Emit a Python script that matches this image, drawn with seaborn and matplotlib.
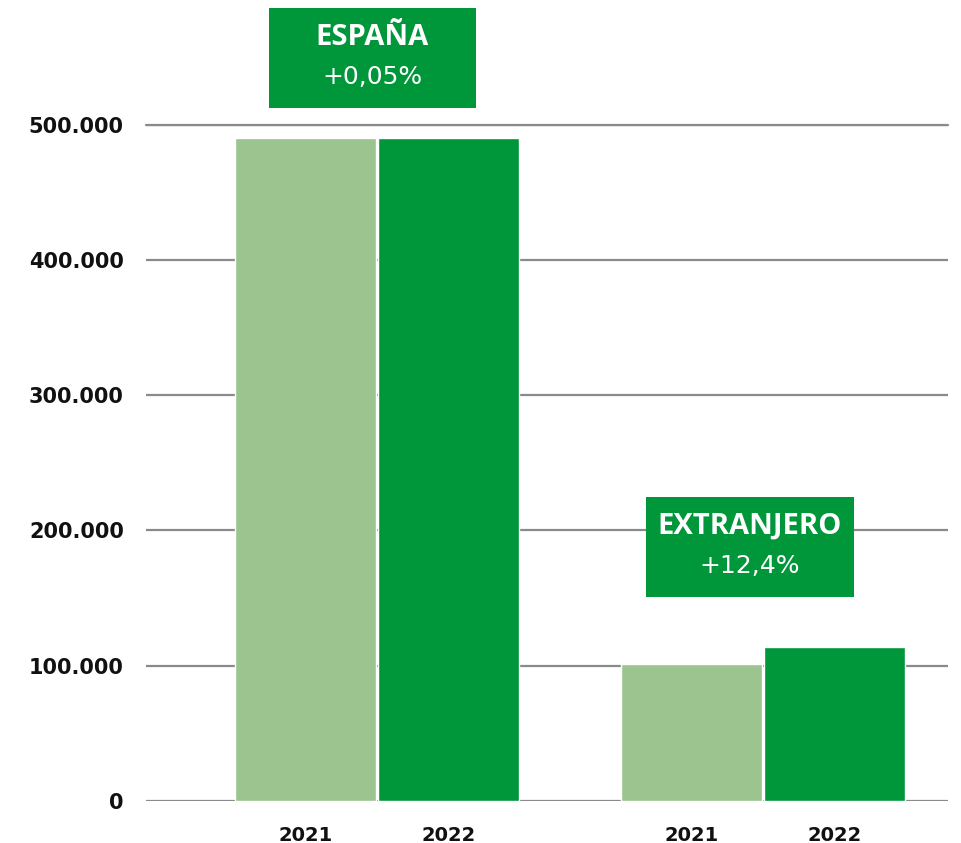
import matplotlib
matplotlib.use("Agg")
import matplotlib.pyplot as plt
import seaborn as sns
import pandas as pd
from matplotlib.patches import Rectangle

# ---- data ----
regions = ["ESPAÑA", "EXTRANJERO"]
years = ["2021", "2022"]
values_2021 = [490500, 101300]
values_2022 = [490750, 113900]
changes = ["+0,05%", "+12,4%"]
yticks = [0, 100000, 200000, 300000, 400000, 500000]
ytick_labels = ["0", "100.000", "200.000", "300.000", "400.000", "500.000"]

df = pd.DataFrame({
    "region": regions * 2,
    "year": [years[0]] * 2 + [years[1]] * 2,
    "value": values_2021 + values_2022,
})

sns.set_theme(style="white")
plt.rcParams["font.family"] = ["DejaVu Sans"]

W, H = 962, 843
fig = plt.figure(figsize=(W / 100, H / 100), dpi=100)
ax_left, ax_right = 146, 948
ax_top, ax_bottom = 125, 800.7
ax = fig.add_axes([ax_left / W, (H - ax_bottom) / H,
                   (ax_right - ax_left) / W, (ax_bottom - ax_top) / H])

light = "#9BC48E"
dark = "#00963A"
sns.barplot(data=df, x="region", y="value", hue="year", order=regions,
            hue_order=years, palette=[light, dark], width=0.74, gap=0.014,
            saturation=1, legend=False, ax=ax)

# x limits: group centres at 0 and 1, 386 px apart
px_per_unit = 386.0
c0 = 377
ax.set_xlim((ax_left - c0) / px_per_unit, (ax_right - c0) / px_per_unit)
ax.set_ylim(0, 500000)

# gridlines
ax.set_yticks(yticks)
ax.set_yticklabels(ytick_labels)
ax.yaxis.grid(True, color="#8a8a8a", linewidth=1.6)
ax.set_axisbelow(True)
for s in ax.spines.values():
    s.set_visible(False)
ax.axhline(0, color="#8a8a8a", linewidth=1.8, zorder=0.5)
ax.axhline(500000, color="#8a8a8a", linewidth=1.6, zorder=0.5, clip_on=False)

# x tick labels under each bar
centers = sorted(p.get_x() + p.get_width() / 2 for p in ax.patches if p.get_height() > 0)
labels = [years[0] if (c - round(c)) < 0 else years[1] for c in centers]
ax.set_xticks(centers)
ax.set_xticklabels(labels)
ax.set_xlabel("")
ax.set_ylabel("")
ax.tick_params(axis="x", length=0, labelsize=14, pad=18)
ax.tick_params(axis="y", length=0, labelsize=15, pad=16)
for t in ax.get_xticklabels() + ax.get_yticklabels():
    t.set_fontweight("bold")
    t.set_color("#111111")

# annotation boxes (pixel geometry converted to data coords)
def px2x(px):
    return (px - c0) / px_per_unit

def py2y(py):
    return (ax_bottom - py) / (ax_bottom - ax_top) * 500000

boxes = [(269, 476, 8, 108), (646, 854, 497, 597)]
for (x0, x1, y0, y1), name, ch in zip(boxes, regions, changes):
    ax.add_patch(Rectangle((px2x(x0), py2y(y1)), px2x(x1) - px2x(x0),
                           py2y(y0) - py2y(y1), facecolor=dark,
                           edgecolor="none", clip_on=False, zorder=5))
    xc = px2x((x0 + x1) / 2)
    ax.text(xc, py2y(y0 + 29), name, ha="center", va="center", color="white",
            fontsize=21, fontweight="bold", family=["Open Sans", "DejaVu Sans"],
            zorder=6, clip_on=False)
    ax.text(xc, py2y(y0 + 69), ch, ha="center", va="center", color="white",
            fontsize=18, fontweight="normal", family=["DejaVu Sans"],
            zorder=6, clip_on=False)

fig.savefig("out.png", dpi=100)
